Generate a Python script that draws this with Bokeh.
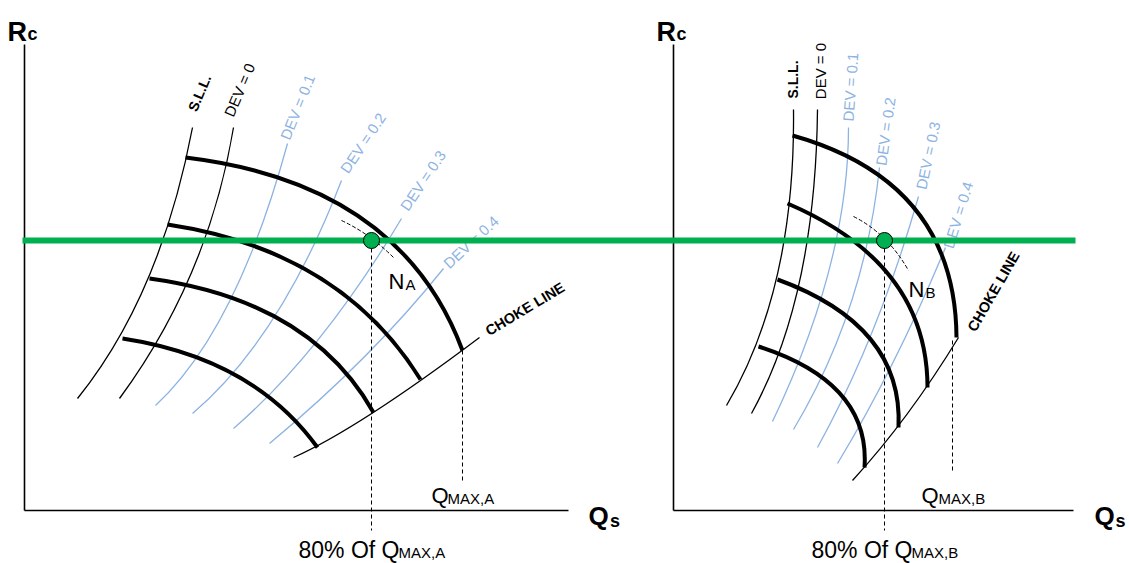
import numpy as np
from bokeh.plotting import figure
from bokeh.models import Range1d, ColumnDataSource
from bokeh.core.properties import value
from bokeh.embed import file_html
from bokeh.resources import INLINE

# ------------------------------------------------------------------
# Schematic compressor maps (two panels). Each panel uses its own
# local coordinates: Qs grows to the right, Rc grows upward, origin at
# the axes corner. Panel B is drawn shifted to the right.
# Curves are quadratic Beziers: start (x0,y0), control (cx,cy), end (x1,y1).
# ------------------------------------------------------------------
PANEL_B_SHIFT = 649

# ---- Panel A ----
A_speed_x0 = [161, 143, 125, 98]
A_speed_y0 = [353, 286, 232, 172]
A_speed_cx = [376, 316, 286, 229]
A_speed_cy = [327, 260, 210, 152]
A_speed_x1 = [438, 396, 349, 293]
A_speed_y1 = [160, 131, 98, 63]

A_dev_names = ["S.L.L.", "DEV = 0", "DEV = 0.1", "DEV = 0.2", "DEV = 0.3", "DEV = 0.4"]
A_dev_x0 = [168, 209, 263, 317, 377, 419]
A_dev_y0 = [383, 383, 367, 330, 292, 242]
A_dev_cx = [136, 184, 212, 256, 297, 347]
A_dev_cy = [215, 233, 180, 172, 158, 152]
A_dev_x1 = [53, 95, 131, 168, 209, 245]
A_dev_y1 = [112, 112, 105, 97, 82, 67]

A_choke = dict(x0=[269], y0=[53], cx=[334], cy=[82], x1=[455], y1=[173])
A_speed_na = dict(x0=[317], y0=[290], cx=[345], cy=[277], x1=[369], y1=[253])
A_op_q, A_op_r = 347, 270
A_qmax, A_qmax_r, A_qmax_low = 438, 160, 30

# ---- Panel B ----
B_speed_x0 = [119, 114, 104, 85]
B_speed_y0 = [375, 307, 231, 164]
B_speed_cx = [282, 254, 230, 197]
B_speed_cy = [329, 247, 185, 128]
B_speed_x1 = [283, 254, 225, 191]
B_speed_y1 = [173, 123, 83, 43]

B_dev_names = ["S.L.L.", "DEV = 0", "DEV = 0.1", "DEV = 0.2", "DEV = 0.3", "DEV = 0.4"]
B_dev_x0 = [120, 144, 175, 206, 245, 272]
B_dev_y0 = [401, 401, 383, 343, 314, 263]
B_dev_cx = [122, 142, 175, 191, 205, 222]
B_dev_cy = [222, 213, 248, 200, 174, 143]
B_dev_x1 = [53, 78, 99, 120, 144, 164]
B_dev_y1 = [105, 97, 89, 81, 63, 47]

B_choke = dict(x0=[179], y0=[30], cx=[235], cy=[91], x1=[285], y1=[173])
B_speed_nb = dict(x0=[180], y0=[294], cx=[214], cy=[277], x1=[235], y1=[240])
B_op_q, B_op_r = 211, 270
B_qmax, B_qmax_r, B_qmax_low = 279, 170, 37

AXIS_R_TOP = 466
A_AXIS_Q_END = 544
B_AXIS_Q_END = 400
RC_OPERATING = 270  # common Rc (green line)

FONT = "Liberation Sans"
BLUE = "#8db3e2"
GREEN = "#00b050"

p = figure(width=1129, height=563, x_range=Range1d(-24, 1105), y_range=Range1d(-53, 510),
           output_backend="svg", toolbar_location=None, min_border=0,
           x_axis_location=None, y_axis_location=None)
p.grid.visible = False
p.outline_line_color = None
p.background_fill_color = "white"
p.border_fill_color = "white"


def shift(vals, dx):
    return [v + dx for v in vals]


def quad(x0, y0, cx, cy, x1, y1, dx, **kw):
    src = ColumnDataSource(dict(x0=shift(x0, dx), y0=list(y0), cx=shift(cx, dx), cy=list(cy),
                                x1=shift(x1, dx), y1=list(y1)))
    p.quadratic(x0="x0", y0="y0", x1="x1", y1="y1", cx="cx", cy="cy", source=src, **kw)


def txt(x, y, s, size, color="black", bold=False, angle=0, align="left", baseline="alphabetic"):
    p.text(x=[x], y=[y], text=[s], text_font=value(FONT), text_font_size=f"{size}px",
           text_font_style="bold" if bold else "normal", text_color=color,
           angle=float(np.deg2rad(angle)), text_align=align, text_baseline=baseline)


panels = [
    dict(dx=0, sx0=A_speed_x0, sy0=A_speed_y0, scx=A_speed_cx, scy=A_speed_cy, sx1=A_speed_x1, sy1=A_speed_y1,
         dx0=A_dev_x0, dy0=A_dev_y0, dcx=A_dev_cx, dcy=A_dev_cy, dx1=A_dev_x1, dy1=A_dev_y1,
         choke=A_choke, nline=A_speed_na, op=(A_op_q, A_op_r), qmax=(A_qmax, A_qmax_r, A_qmax_low),
         qend=A_AXIS_Q_END),
    dict(dx=PANEL_B_SHIFT, sx0=B_speed_x0, sy0=B_speed_y0, scx=B_speed_cx, scy=B_speed_cy, sx1=B_speed_x1,
         sy1=B_speed_y1, dx0=B_dev_x0, dy0=B_dev_y0, dcx=B_dev_cx, dcy=B_dev_cy, dx1=B_dev_x1, dy1=B_dev_y1,
         choke=B_choke, nline=B_speed_nb, op=(B_op_q, B_op_r), qmax=(B_qmax, B_qmax_r, B_qmax_low),
         qend=B_AXIS_Q_END),
]

for pn in panels:
    dx = pn["dx"]
    # axes
    p.segment(x0=[dx, dx], y0=[0, 0], x1=[dx, dx + pn["qend"]], y1=[AXIS_R_TOP, 0],
              line_color="black", line_width=1.6)
    # DEV lines: blue ones, then black S.L.L. and DEV = 0
    quad(pn["dx0"][2:], pn["dy0"][2:], pn["dcx"][2:], pn["dcy"][2:], pn["dx1"][2:], pn["dy1"][2:], dx,
         line_color=BLUE, line_width=1.3)
    quad(pn["dx0"][:2], pn["dy0"][:2], pn["dcx"][:2], pn["dcy"][:2], pn["dx1"][:2], pn["dy1"][:2], dx,
         line_color="black", line_width=1.3)
    # choke line
    c = pn["choke"]
    quad(c["x0"], c["y0"], c["cx"], c["cy"], c["x1"], c["y1"], dx, line_color="black", line_width=1.3)
    # constant speed lines
    quad(pn["sx0"], pn["sy0"], pn["scx"], pn["scy"], pn["sx1"], pn["sy1"], dx, line_color="black", line_width=4)
    # dashed speed line through the operating point
    n = pn["nline"]
    quad(n["x0"], n["y0"], n["cx"], n["cy"], n["x1"], n["y1"], dx, line_color="black", line_width=1,
         line_dash="4 2")
    # vertical dashed lines
    opq, opr = pn["op"]
    qm, qmr, qml = pn["qmax"]
    p.segment(x0=[dx + opq, dx + qm], y0=[opr - 8, qmr], x1=[dx + opq, dx + qm], y1=[-20, qml],
              line_color="black", line_width=1, line_dash="4 3")

# ---- texts ----
dev_colors = ["black", "black", BLUE, BLUE, BLUE, BLUE]
A_lab_pos = [(175, 417.5, 67), (215, 420.5, 67), (273, 403.5, 68), (338.5, 367.5, 56), (398.5, 330, 56),
             (446.5, 268.5, 43)]
B_lab_pos = [(119.5, 431, 90), (146.5, 439.5, 90), (177, 423.5, 86), (212, 379, 82), (254.5, 355, 78),
             (284.5, 295.5, 73)]
for names, pos, dx in [(A_dev_names, A_lab_pos, 0), (B_dev_names, B_lab_pos, PANEL_B_SHIFT)]:
    for i, (nm, (x, y, a)) in enumerate(zip(names, pos)):
        txt(x + dx, y, nm, 14 if i == 0 else 15, color=dev_colors[i], bold=(i == 0), angle=a,
            align="center", baseline="middle")

txt(500.5, 201.5, "CHOKE LINE", 14.5, bold=True, angle=31, align="center", baseline="middle")
txt(PANEL_B_SHIFT + 320, 219, "CHOKE LINE", 14.5, bold=True, angle=60, align="center", baseline="middle")

for dx in (0, PANEL_B_SHIFT):
    txt(dx - 17, 479, "R", 27, bold=True)
    txt(dx + 3, 476.5, "c", 18, bold=True)

txt(564, -5, "Q", 26, bold=True)
txt(585.5, -10, "s", 18, bold=True)
txt(PANEL_B_SHIFT + 421, -5, "Q", 26, bold=True)
txt(PANEL_B_SHIFT + 442, -10, "s", 18, bold=True)

txt(364, 229, "N", 22)
txt(381, 226, "A", 15)
txt(PANEL_B_SHIFT + 235, 221, "N", 22)
txt(PANEL_B_SHIFT + 252, 218, "B", 15)

txt(407, 15, "Q", 22)
txt(423, 12, "MAX,A", 15)
txt(PANEL_B_SHIFT + 248, 15, "Q", 22)
txt(PANEL_B_SHIFT + 265, 12, "MAX,B", 15)

for dx, sub in ((0, "MAX,A"), (PANEL_B_SHIFT + 138 - 274, "MAX,B")):
    txt(274 + dx, -39, "80% Of Q", 23)
    txt(374 + dx, -42, sub, 15)

# ---- green operating line and points ----
p.segment(x0=[-2], y0=[RC_OPERATING], x1=[1051], y1=[RC_OPERATING], line_color=GREEN, line_width=6)
p.scatter(x=[A_op_q, PANEL_B_SHIFT + B_op_q], y=[A_op_r, B_op_r], size=16,
          fill_color=GREEN, line_color="black", line_width=1)

open("out.html", "w").write(file_html(p, INLINE))
